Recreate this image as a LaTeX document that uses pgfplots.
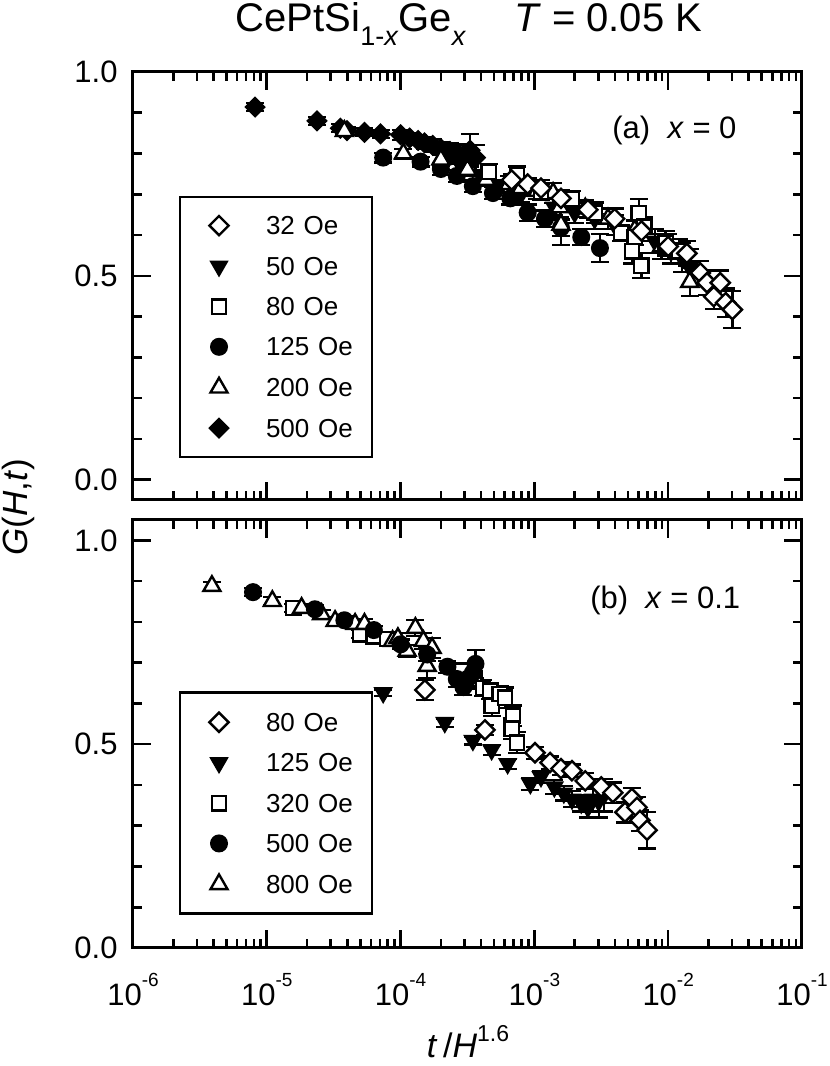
\documentclass[border=0pt]{standalone}
\usepackage{fontspec}
\setmainfont{Liberation Sans}
\usepackage{pgfplots}
\pgfplotsset{compat=1.18}
\usepackage{pgfplotstable}

% ---------------- panel (a): x = 0 ----------------
\pgfplotstableread{
x y e
8.17e-6 0.914 0.010
2.37e-5 0.880 0.010
3.55e-5 0.862 0.010
3.98e-5 0.856 0.010
5.37e-5 0.852 0.010
7.08e-5 0.848 0.010
1.00e-4 0.846 0.012
1.17e-4 0.838 0.012
1.35e-4 0.832 0.012
1.51e-4 0.826 0.015
1.74e-4 0.820 0.015
2.00e-4 0.812 0.015
2.34e-4 0.805 0.020
2.69e-4 0.800 0.020
3.02e-4 0.798 0.025
3.31e-4 0.808 0.040
3.63e-4 0.790 0.030
}\aFiveHundred
\pgfplotstableread{
x y e
7.41e-5 0.790 0.012
1.41e-4 0.780 0.012
2.00e-4 0.762 0.015
2.63e-4 0.745 0.015
3.47e-4 0.720 0.015
4.90e-4 0.703 0.015
6.61e-4 0.690 0.015
8.91e-4 0.655 0.020
1.20e-3 0.640 0.020
1.58e-3 0.618 0.020
2.24e-3 0.595 0.020
3.09e-3 0.568 0.035
}\aOneTwentyFive
\pgfplotstableread{
x y e
2.24e-4 0.790 0.015
2.82e-4 0.770 0.015
3.98e-4 0.745 0.015
5.62e-4 0.720 0.015
7.94e-4 0.700 0.020
1.41e-3 0.668 0.020
2.00e-3 0.655 0.025
2.82e-3 0.640 0.025
3.98e-3 0.625 0.025
5.62e-3 0.605 0.030
7.94e-3 0.585 0.030
1.05e-2 0.560 0.030
1.26e-2 0.545 0.035
1.45e-2 0.520 0.045
}\aFifty
\pgfplotstableread{
x y e
3.80e-5 0.855 0.010
1.05e-4 0.800 0.012
2.00e-4 0.785 0.015
3.16e-4 0.760 0.015
4.37e-4 0.735 0.015
6.46e-4 0.725 0.020
7.94e-4 0.715 0.020
1.05e-3 0.708 0.020
1.38e-3 0.703 0.025
1.55e-3 0.668 0.025
1.58e-3 0.625 0.050
2.40e-3 0.665 0.020
3.55e-3 0.640 0.025
5.62e-3 0.612 0.025
8.91e-3 0.572 0.030
1.45e-2 0.485 0.035
}\aTwoHundred
\pgfplotstableread{
x y e
4.57e-4 0.755 0.020
7.41e-4 0.748 0.020
1.12e-3 0.705 0.020
1.91e-3 0.688 0.020
2.82e-3 0.655 0.025
4.47e-3 0.605 0.020
5.37e-3 0.560 0.030
5.62e-3 0.595 0.020
6.03e-3 0.654 0.035
6.31e-3 0.525 0.030
6.61e-3 0.620 0.025
9.55e-3 0.580 0.030
1.20e-2 0.560 0.030
}\aEighty
\pgfplotstableread{
x y e
6.76e-4 0.735 0.015
8.91e-4 0.725 0.015
1.12e-3 0.715 0.020
1.58e-3 0.690 0.020
2.51e-3 0.662 0.020
3.98e-3 0.640 0.025
6.31e-3 0.610 0.025
1.00e-2 0.572 0.030
1.38e-2 0.555 0.030
1.74e-2 0.507 0.030
1.95e-2 0.483 0.030
2.45e-2 0.483 0.030
2.19e-2 0.449 0.030
2.69e-2 0.434 0.035
3.02e-2 0.417 0.045
}\aThirtyTwo

% ---------------- panel (b): x = 0.1 ----------------
\pgfplotstableread{
x y e
3.89e-6 0.888 0.010
1.10e-5 0.851 0.010
1.82e-5 0.834 0.010
2.57e-5 0.819 0.010
3.24e-5 0.802 0.010
4.57e-5 0.795 0.010
5.37e-5 0.795 0.012
8.71e-5 0.753 0.012
9.55e-5 0.760 0.012
1.12e-4 0.729 0.015
1.29e-4 0.785 0.020
1.48e-4 0.753 0.020
1.72e-4 0.736 0.025
1.58e-4 0.692 0.030
}\bEightHundred
\pgfplotstableread{
x y e
7.89e-6 0.873 0.010
2.29e-5 0.831 0.010
3.80e-5 0.804 0.010
6.31e-5 0.780 0.010
1.00e-4 0.745 0.012
1.58e-4 0.720 0.015
2.24e-4 0.690 0.015
2.63e-4 0.660 0.020
2.95e-4 0.640 0.020
3.16e-4 0.660 0.025
3.47e-4 0.675 0.025
3.63e-4 0.697 0.034
}\bFiveHundred
\pgfplotstableread{
x y e
1.58e-5 0.834 0.010
5.01e-5 0.770 0.010
6.31e-5 0.765 0.010
7.94e-5 0.758 0.012
2.82e-4 0.680 0.020
3.55e-4 0.660 0.020
4.13e-4 0.638 0.020
4.68e-4 0.631 0.020
4.79e-4 0.594 0.025
5.50e-4 0.623 0.020
6.03e-4 0.614 0.025
6.92e-4 0.570 0.025
6.76e-4 0.538 0.025
7.41e-4 0.504 0.025
}\bThreeTwenty
\pgfplotstableread{
x y e
7.41e-5 0.626 0.008
2.14e-4 0.553 0.010
3.47e-4 0.509 0.010
4.79e-4 0.486 0.012
6.31e-4 0.452 0.012
9.33e-4 0.403 0.015
1.12e-3 0.420 0.015
1.41e-3 0.395 0.018
1.66e-3 0.380 0.018
1.91e-3 0.365 0.020
2.24e-3 0.355 0.020
2.51e-3 0.345 0.025
2.75e-3 0.365 0.030
3.02e-3 0.360 0.040
3.31e-3 0.375 0.040
}\bOneTwentyFive
\pgfplotstableread{
x y e
1.52e-4 0.633 0.025
4.27e-4 0.535 0.012
1.01e-3 0.479 0.015
1.31e-3 0.455 0.015
1.58e-3 0.440 0.015
1.91e-3 0.435 0.015
2.40e-3 0.410 0.020
3.16e-3 0.395 0.020
3.86e-3 0.381 0.025
4.75e-3 0.333 0.025
5.36e-3 0.367 0.025
5.85e-3 0.345 0.025
6.15e-3 0.313 0.025
6.95e-3 0.289 0.045
}\bEighty

\tikzset{
  odiam/.style={black, only marks, mark=square*, mark options={draw=black,fill=white,line width=1.2pt,rotate=45,mark size=3.4pt}},
  fdiam/.style={black, only marks, mark=square*, mark options={draw=black,fill=black,line width=0.8pt,rotate=45,mark size=3.4pt}},
  osq/.style={black, only marks, mark=square*, mark options={draw=black,fill=white,line width=1.2pt,mark size=3.6pt}},
  fcirc/.style={black, only marks, mark=*, mark options={draw=black,fill=black,line width=0.8pt,mark size=4.1pt}},
  otri/.style={black, only marks, mark=triangle*, mark options={draw=black,fill=white,line width=1.2pt,mark size=4.9pt}},
  ftriinv/.style={black, only marks, mark=triangle*, mark options={draw=black,fill=black,line width=0.8pt,rotate=180,mark size=4.8pt}},
}
\pgfplotsset{
  errb/.style={error bars/y dir=both, error bars/y explicit,
    error bars/error bar style={black,line width=1.1pt,solid},
    error bars/error mark options={black,line width=1.1pt,mark size=4.5pt,rotate=90}},
  every axis/.append style={xmode=log, xmin=1e-6, xmax=1e-1, scale only axis,
    width=334.5pt, height=214pt,
    axis line style={line width=1.5pt},
    tick style={black,line width=1.3pt},
    major tick length=9pt, minor tick length=4.5pt,
    xtick={1e-6,1e-5,1e-4,1e-3,1e-2,1e-1},
    minor xtick={2e-6,3e-6,4e-6,5e-6,6e-6,7e-6,8e-6,9e-6,
                 2e-5,3e-5,4e-5,5e-5,6e-5,7e-5,8e-5,9e-5,
                 2e-4,3e-4,4e-4,5e-4,6e-4,7e-4,8e-4,9e-4,
                 2e-3,3e-3,4e-3,5e-3,6e-3,7e-3,8e-3,9e-3,
                 2e-2,3e-2,4e-2,5e-2,6e-2,7e-2,8e-2,9e-2},
    ytick={0,0.5,1}, yticklabels={0.0,0.5,1.0},
    minor ytick={0.1,0.2,0.3,0.4,0.6,0.7,0.8,0.9},
    tick label style={font=\fontsize{15.5}{15.5}\selectfont},
    yticklabel style={inner sep=0pt, xshift=-7.5pt},
    xticklabel style={inner sep=0pt, yshift=-12.3pt},
    legend cell align=left,
  },
}

\newcommand{\supx}[1]{\raisebox{0.62em}{\fontsize{9.5}{9.5}\selectfont #1}}

\begin{document}
\begin{tikzpicture}
% ---------------- panel (a) ----------------
\begin{axis}[at={(66.5pt,283pt)}, anchor=south west,
  ymin=-0.05, ymax=1.0, xticklabels={},
  legend image code/.code={\path[draw=none,fill=none] (0pt,-4pt) rectangle (20pt,4pt); \draw[#1] plot coordinates {(10pt,0pt)};},
  legend style={at={(0.0703,0.708)}, anchor=north west, draw=black, fill=white,
    line width=1.3pt, inner xsep=9.5pt, inner ysep=9.5pt, outer sep=0pt,
    row sep=11pt, column sep=13.5pt,
    nodes={inner sep=0pt, text height=9pt, text depth=0pt, text width=43.5pt, align=left,
      font=\fontsize{13}{13}\selectfont}},
]
\addlegendimage{odiam}\addlegendentry{32 Oe}
\addlegendimage{ftriinv}\addlegendentry{50 Oe}
\addlegendimage{osq}\addlegendentry{80 Oe}
\addlegendimage{fcirc}\addlegendentry{125 Oe}
\addlegendimage{otri}\addlegendentry{200 Oe}
\addlegendimage{fdiam}\addlegendentry{500 Oe}
\addplot[fdiam, errb, forget plot] table[x=x,y=y,y error=e] {\aFiveHundred};
\addplot[fcirc, errb, forget plot] table[x=x,y=y,y error=e] {\aOneTwentyFive};
\addplot[ftriinv, errb, forget plot] table[x=x,y=y,y error=e] {\aFifty};
\addplot[otri, errb, forget plot] table[x=x,y=y,y error=e] {\aTwoHundred};
\addplot[osq, errb, forget plot] table[x=x,y=y,y error=e] {\aEighty};
\addplot[odiam, errb, forget plot] table[x=x,y=y,y error=e] {\aThirtyTwo};
\node[anchor=west, inner sep=0pt, font=\fontsize{15.5}{15.5}\selectfont] at (rel axis cs:0.716,0.864) {(a)\ \ \textit{x} = 0};
\end{axis}
% ---------------- panel (b) ----------------
\begin{axis}[at={(66.5pt,59pt)}, anchor=south west,
  ymin=0, ymax=1.05,
  xticklabels={10\supx{-6},10\supx{-5},10\supx{-4},10\supx{-3},10\supx{-2},10\supx{-1}},
  legend image code/.code={\path[draw=none,fill=none] (0pt,-4pt) rectangle (20pt,4pt); \draw[#1] plot coordinates {(10pt,0pt)};},
  legend style={at={(0.0703,0.5967)}, anchor=north west, draw=black, fill=white,
    line width=1.3pt, inner xsep=9.5pt, inner ysep=10pt, outer sep=0pt,
    row sep=11pt, column sep=13.5pt,
    nodes={inner sep=0pt, text height=9pt, text depth=0pt, text width=43.5pt, align=left,
      font=\fontsize{13}{13}\selectfont}},
]
\addlegendimage{odiam}\addlegendentry{80 Oe}
\addlegendimage{ftriinv}\addlegendentry{125 Oe}
\addlegendimage{osq}\addlegendentry{320 Oe}
\addlegendimage{fcirc}\addlegendentry{500 Oe}
\addlegendimage{otri}\addlegendentry{800 Oe}
\addplot[ftriinv, errb, forget plot] table[x=x,y=y,y error=e] {\bOneTwentyFive};
\addplot[odiam, errb, forget plot] table[x=x,y=y,y error=e] {\bEighty};
\addplot[osq, errb, forget plot] table[x=x,y=y,y error=e] {\bThreeTwenty};
\addplot[otri, errb, forget plot] table[x=x,y=y,y error=e] {\bEightHundred};
\addplot[fcirc, errb, forget plot] table[x=x,y=y,y error=e] {\bFiveHundred};
\node[anchor=west, inner sep=0pt, font=\fontsize{15.5}{15.5}\selectfont] at (rel axis cs:0.683,0.811) {(b)\ \ \textit{x} = 0.1};
\end{axis}
% ---------------- labels ----------------
\node[anchor=base, inner sep=0pt, font=\fontsize{20}{20}\selectfont] at (234.5pt,517pt)
  {CePtSi\raisebox{-0.33em}{\fontsize{13.5}{13.5}\selectfont 1-\textit{x}}Ge\raisebox{-0.33em}{\fontsize{13.5}{13.5}\selectfont\textit{x}}\hspace{1.2em}\textit{T} = 0.05 K};
\node[rotate=90, inner sep=0pt, font=\fontsize{17.5}{17.5}\selectfont] at (9pt,279.5pt)
  {\textit{G}(\textit{H},\textit{t})};
\node[anchor=base, inner sep=0pt, font=\fontsize{17}{17}\selectfont] at (234pt,4.5pt)
  {\textit{t}\,/\textit{H}\raisebox{0.45em}{\fontsize{11.5}{11.5}\selectfont 1.6}};
\pgfresetboundingbox
\path (0,0) rectangle (415pt,533pt);
\end{tikzpicture}
\end{document}
